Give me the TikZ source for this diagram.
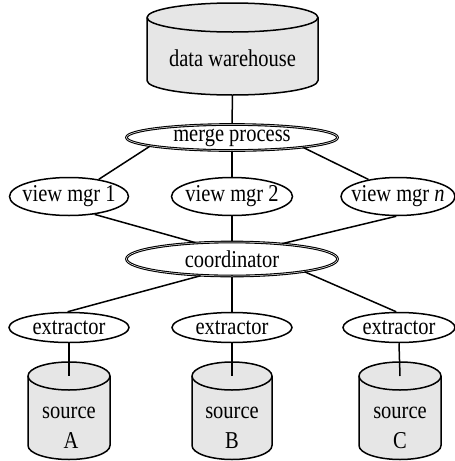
\documentclass[tikz,border=0pt]{standalone}
\usepackage{fontspec}
\setmainfont{Liberation Serif}
\usetikzlibrary{shapes.geometric}
\definecolor{cylgray}{HTML}{E6E6E6}
\newcommand\tallt[1]{\scalebox{1}[1.18]{#1}}
\newcommand\ctext[1]{\makebox[0pt]{\raisebox{-0.5ex}{\tallt{#1}}}}
\tikzset{
  proc/.style={ellipse, draw, line width=1.5pt, inner sep=0pt, font=\fontsize{20.5}{22}\selectfont},
  dproc/.style={ellipse, draw, double, double distance=0.5pt, line width=1.1pt, inner sep=0pt, font=\fontsize{20.5}{22}\selectfont},
  link/.style={line width=1.5pt},
  cyl/.style={fill=cylgray, draw, line width=1.5pt},
  lbl/.style={inner sep=0pt, font=\fontsize{20.5}{22}\selectfont, anchor=base}
}
\newcommand\drawcyl[5]{%
  \filldraw[cyl] ({#1-#4},#2) -- ({#1-#4},#3) arc[start angle=180,end angle=360,x radius=#4pt,y radius=#5pt]
     -- ({#1+#4},#2) arc[start angle=0,end angle=180,x radius=#4pt,y radius=#5pt] -- cycle;
  \draw[line width=1.5pt] ({#1-#4},#2) arc[start angle=180,end angle=360,x radius=#4pt,y radius=#5pt];}
\begin{document}
\begin{tikzpicture}[x=1pt,y=-1pt]
\useasboundingbox (0,0) rectangle (455,461);
% data warehouse
\drawcyl{232.5}{17.5}{80.5}{85.5}{14.5}
\node[lbl] (dw) at (232.5,66) {\tallt{data warehouse}};
\coordinate (dwbot) at (232.5,95);
% sources
\drawcyl{69}{376}{445.5}{41}{14}
\drawcyl{232}{376}{445.5}{40}{14}
\drawcyl{400}{376}{445.5}{41}{14}
\node[lbl] (srcA) at (69,418) {\tallt{source}};
\node[lbl] (srcAl) at (71,448) {\tallt{A}};
\node[lbl] (srcB) at (232,418) {\tallt{source}};
\node[lbl] (srcBl) at (232,448) {\tallt{B}};
\node[lbl] (srcC) at (400,418) {\tallt{source}};
\node[lbl] (srcCl) at (400,448) {\tallt{C}};
\coordinate (topA) at (69,376);
\coordinate (topB) at (232,376);
\coordinate (topC) at (400,376);
% processes
\node[dproc, minimum width=211pt, minimum height=26pt] (merge) at (232,137.5) {\ctext{merge process}};
\node[proc, minimum width=119pt, minimum height=38pt] (vm1) at (69,196.5) {\ctext{view mgr 1}};
\node[proc, minimum width=121pt, minimum height=38pt] (vm2) at (232,196.5) {\ctext{view mgr 2}};
\node[proc, minimum width=114pt, minimum height=38pt] (vmn) at (398,196.5) {\ctext{view mgr \textit{n}}};
\node[dproc, minimum width=211pt, minimum height=34pt] (coord) at (232,259) {\ctext{coordinator}};
\node[proc, minimum width=120pt, minimum height=30pt] (ex1) at (69,327.5) {\ctext{extractor}};
\node[proc, minimum width=120pt, minimum height=30pt] (ex2) at (232,327.5) {\ctext{extractor}};
\node[proc, minimum width=112pt, minimum height=30pt] (ex3) at (399,327.5) {\ctext{extractor}};
% connectors
\draw[link] (dwbot) -- (merge.north);
\draw[link] (merge.186) -- (vm1.30);
\draw[link] (merge.south) -- (vm2.north);
\draw[link] (merge.352) -- (vmn.150);
\draw[link] (vm1.325) -- (coord.156);
\draw[link] (vm2.south) -- (coord.north);
\draw[link] (vmn.265) -- (coord.17);
\draw[link] (coord.208) -- (ex1.95);
\draw[link] (coord.south) -- (ex2.north);
\draw[link] (coord.350) -- (ex3.100);
\draw[link] (ex1.south) -- (topA);
\draw[link] (ex2.south) -- (topB);
\draw[link] (ex3.south) -- (topC);
\end{tikzpicture}
\end{document}
